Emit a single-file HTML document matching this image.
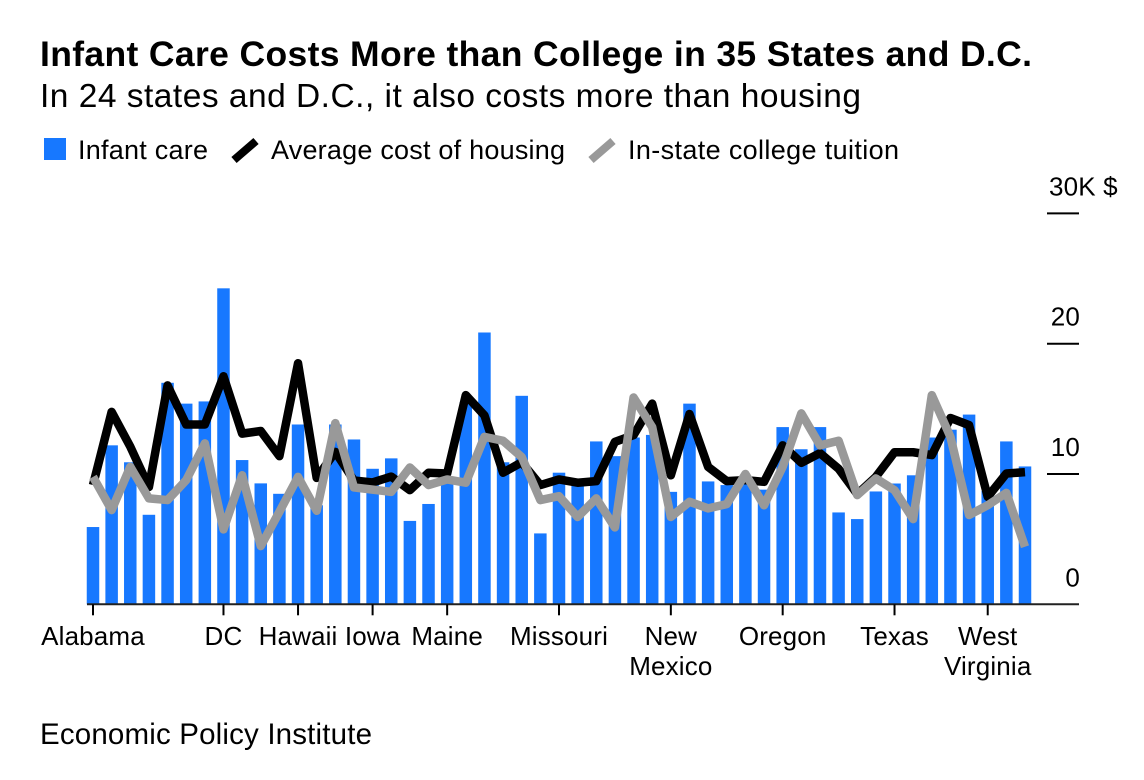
<!DOCTYPE html>
<html lang="en">
<head>
<meta charset="utf-8">
<title>Infant Care Costs More than College</title>
<style>
html,body{margin:0;padding:0;background:#fff;width:1144px;height:780px;overflow:hidden}
svg{display:block}
text{font-family:"Liberation Sans",Arial,sans-serif;fill:#000}
.tick-text{font-size:26px;letter-spacing:.15px}
</style>
</head>
<body>
<svg id="chart" width="1144" height="780" viewBox="0 0 1144 780" xmlns="http://www.w3.org/2000/svg">
  <text x="40" y="66" font-size="35.5" font-weight="700" textLength="992" lengthAdjust="spacing">Infant Care Costs More than College in 35 States and D.C.</text>
  <text x="40" y="107" font-size="33.5" textLength="821" lengthAdjust="spacing">In 24 states and D.C., it also costs more than housing</text>
  <g>
    <rect x="44" y="138" width="22" height="22" fill="#1778ff"/>
    <text x="78" y="159" font-size="27" textLength="130" lengthAdjust="spacing">Infant care</text>
    <line x1="234" y1="160" x2="256" y2="141" stroke="#000" stroke-width="8"/>
    <text x="271" y="159" font-size="27" textLength="294" lengthAdjust="spacing">Average cost of housing</text>
    <line x1="591" y1="160" x2="613" y2="141" stroke="#999" stroke-width="8"/>
    <text x="628" y="159" font-size="27" textLength="271" lengthAdjust="spacing">In-state college tuition</text>
  </g>
  <g id="bars"></g>
  <path id="housing" fill="none" stroke="#000" stroke-width="8.5" stroke-linejoin="round" stroke-linecap="butt"/>
  <path id="tuition" fill="none" stroke="#999" stroke-width="8.5" stroke-linejoin="round" stroke-linecap="butt"/>
  <g id="y-axis"></g>
  <g id="x-axis"></g>
  <text x="40" y="744" font-size="29.5" textLength="332" lengthAdjust="spacing">Economic Policy Institute</text>
</svg>
<script>
const states = ["Alabama","Alaska","Arizona","Arkansas","California","Colorado","Connecticut","DC","Delaware","Florida","Georgia","Hawaii","Idaho","Illinois","Indiana","Iowa","Kansas","Kentucky","Louisiana","Maine","Maryland","Massachusetts","Michigan","Minnesota","Mississippi","Missouri","Montana","Nebraska","Nevada","New Hampshire","New Jersey","New Mexico","New York","North Carolina","North Dakota","Ohio","Oklahoma","Oregon","Pennsylvania","Rhode Island","South Carolina","South Dakota","Tennessee","Texas","Utah","Vermont","Virginia","Washington","West Virginia","Wisconsin","Wyoming"];
const infantCare = [5.93,12.2,10.9,6.87,17.0,15.4,15.57,24.25,11.07,9.28,8.48,13.8,7.6,13.8,12.65,10.4,11.2,6.4,7.7,9.5,15.5,20.86,10.9,16.0,5.44,10.1,9.3,12.5,11.37,12.8,13.0,8.63,15.4,9.43,9.15,9.5,8.8,13.6,11.9,13.6,7.05,6.54,8.66,9.27,9.9,12.8,13.4,14.56,8.7,12.5,10.58];
const housing = [9.15,14.77,12.1,9.0,16.8,13.8,13.8,17.5,13.1,13.3,11.37,18.5,9.7,11.7,9.5,9.35,9.8,8.76,10.1,10.04,16.05,14.5,10.1,10.9,9.15,9.58,9.33,9.45,12.47,12.98,15.4,9.9,14.6,10.55,9.45,9.53,9.4,12.2,10.86,11.6,10.4,8.46,9.78,11.67,11.67,11.45,14.3,13.75,8.25,10.04,10.14];
const tuition = [9.78,7.23,10.55,8.13,8.0,9.53,12.35,5.75,9.9,4.47,7.1,9.78,7.18,13.9,8.97,8.8,8.63,10.5,9.15,9.58,9.33,12.85,12.55,11.3,8.0,8.3,6.7,8.13,5.9,15.87,13.6,6.7,7.87,7.36,7.69,10.0,7.6,10.55,14.65,12.2,12.55,8.38,9.66,8.76,6.54,16.05,12.85,6.85,7.6,8.55,4.42];
const yTicks = [0,10,20,30];
const yTickLabels = ["0","10","20","30K $"];
const xTickStates = ["Alabama","DC","Hawaii","Iowa","Maine","Missouri","New Mexico","Oregon","Texas","West Virginia"];

const SVG_NS = "http://www.w3.org/2000/svg";
const xFirst = 93, xStep = 18.64, yZero = 604.3, yPerUnit = 13.03, barWidth = 12.5;
const xScale = i => xFirst + xStep * i;
const yScale = v => yZero - v * yPerUnit;
function make(tag, parent, attrs) {
  const el = document.createElementNS(SVG_NS, tag);
  for (const k in attrs) el.setAttribute(k, attrs[k]);
  parent.appendChild(el);
  return el;
}

const barsG = document.getElementById("bars");
infantCare.forEach((v, i) => {
  const bar = make("rect", barsG, {x: xScale(i) - barWidth / 2, y: yScale(v), width: barWidth, height: yZero - yScale(v), fill: "#1778ff"});
  
  
});

const linePath = vals => vals.map((v, i) => (i ? "L" : "M") + xScale(i).toFixed(2) + " " + yScale(v).toFixed(2)).join("");
document.getElementById("housing").setAttribute("d", linePath(housing));
document.getElementById("tuition").setAttribute("d", linePath(tuition));

const yAxis = document.getElementById("y-axis");
const baseline = make("line", yAxis, {x1: 87, x2: 1079, y1: yZero, y2: yZero, stroke: "#222", "stroke-width": 2});


yTicks.forEach((t, i) => {
  if (t !== 0) {
    const gl = make("line", yAxis, {x1: 1047, x2: 1079, y1: yScale(t), y2: yScale(t), stroke: "#000", "stroke-width": 2});
    
    
  }
  const isTop = i === yTicks.length - 1;
  const lbl = make("text", yAxis, {x: isTop ? 1049 : 1080, y: yScale(t) - 18, "text-anchor": isTop ? "start" : "end", "class": "tick-text"});
  lbl.textContent = yTickLabels[i];
  
  
});

const xAxis = document.getElementById("x-axis");
xTickStates.forEach(name => {
  const x = xScale(states.indexOf(name));
  const tick = make("line", xAxis, {x1: x, x2: x, y1: yZero, y2: yZero + 11, stroke: "#000", "stroke-width": 2});
  
  
  const parts = name.split(" ");
  parts.forEach((part, j) => {
    const lbl = make("text", xAxis, {x: x, y: 645 + j * 30, "text-anchor": "middle", "class": "tick-text"});
    lbl.textContent = part;
    
    
  });
});
</script>
</body>
</html>
